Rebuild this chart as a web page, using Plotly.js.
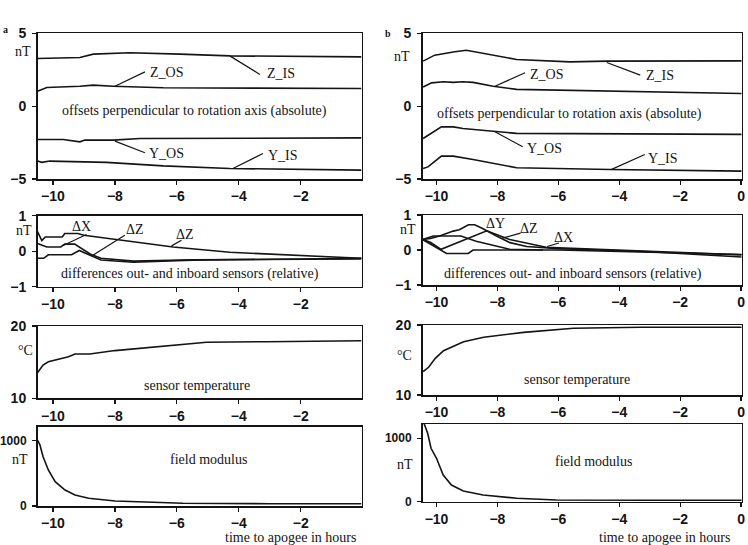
<!DOCTYPE html>
<html>
<head>
<meta charset="utf-8">
<script src="https://cdn.plot.ly/plotly-3.0.1.min.js"></script>
<style>
  html, body { margin: 0; padding: 0; background: #fff; }
  #fig { width: 748px; height: 545px; }
</style>
</head>
<body>
<div id="fig"></div>
<script>
// ---- tick labels ----
const hourTicks   = [-10, -8, -6, -4, -2, 0];
const offsetTicks = [-5, 0, 5];
const diffTicks   = [-1, 0, 1];
const tempTicks   = [10, 20];
const fieldTicks  = [0, 1000];

// ---- panel a: offsets perpendicular to rotation axis (nT) ----
const aZisT = [-10.5, -9.13, -8.7, -7.52, -5.9, -4.29, -0.04];
const aZisV = [3.27, 3.34, 3.57, 3.66, 3.57, 3.45, 3.38];
const aZosT = [-10.5, -10.2, -9.13, -8.7, -8.06, -6.44, -0.04];
const aZosV = [1.03, 1.28, 1.37, 1.44, 1.37, 1.26, 1.21];
const aYosT = [-10.5, -9.67, -9.13, -8.97, -8.06, -7.19, -0.04];
const aYosV = [-2.29, -2.29, -2.45, -2.33, -2.33, -2.22, -2.18];
const aYisT = [-10.5, -10.36, -10.1, -9.13, -8.27, -6.44, -4.29, -0.04];
const aYisV = [-3.77, -3.86, -3.77, -3.82, -3.86, -4.1, -4.28, -4.39];

// ---- panel b: offsets perpendicular to rotation axis (nT) ----
const bZisT = [-10.44, -10.06, -9.4, -9.02, -7.37, -5.62, -4.41, 0.02];
const bZisV = [3.09, 3.5, 3.73, 3.84, 3.2, 3.04, 3.09, 3.11];
const bZosT = [-10.44, -10.16, -9.78, -9.45, -9.13, -8.8, -8.14, -7.37, 0.02];
const bZosV = [1.32, 1.6, 1.67, 1.63, 1.67, 1.63, 1.37, 1.15, 0.87];
const bYosT = [-10.44, -9.84, -9.45, -9.13, -8.14, -7.37, 0.02];
const bYosV = [-2.22, -1.42, -1.42, -1.53, -1.72, -1.87, -1.94];
const bYisT = [-10.44, -10.28, -9.84, -9.45, -8.8, -7.37, -4.3, 0.02];
const bYisV = [-4.28, -4.17, -3.43, -3.43, -3.66, -4.23, -4.35, -4.46];

// ---- panel a: differences out- and inboard sensors (nT) ----
const aDiff1T = [-10.5, -10.36, -10.25, -9.7, -9.62, -9.2, -9.0, -6.12, -4.29, -0.04];
const aDiff1V = [0.55, 0.3, 0.4, 0.4, 0.5, 0.5, 0.45, 0.12, -0.03, -0.2];
const aDiff2T = [-10.5, -10.2, -9.75, -9.62, -9.3, -9.15, -8.8, -8.45, -7.4, -5.5, -0.04];
const aDiff2V = [0.22, 0.12, 0.12, 0.2, 0.2, 0.12, -0.08, -0.2, -0.28, -0.24, -0.22];
const aDiff3T = [-10.5, -10.3, -10.15, -9.4, -9.15, -8.8, -8.45, -7.4, -5.5, -0.04];
const aDiff3V = [-0.2, -0.2, -0.1, -0.1, 0.02, -0.12, -0.25, -0.31, -0.25, -0.2];

// ---- panel b: differences out- and inboard sensors (nT) ----
const bDiff1T = [-10.46, -10.2, -9.9, -9.7, -9.45, -9.25, -8.95, -8.75, -8.52, -8.03, -7.59, -7.04, -6.0, -3.0, 0.02];
const bDiff1V = [0.3, 0.33, 0.4, 0.47, 0.54, 0.58, 0.72, 0.72, 0.63, 0.4, 0.21, 0.1, 0.04, -0.05, -0.2];
const bDiff2T = [-10.46, -10.2, -9.85, -8.35, -7.6, -6.4, -3.0, 0.02];
const bDiff2V = [0.3, 0.22, 0.02, 0.55, 0.3, 0.08, -0.04, -0.14];
const bDiff3T = [-10.46, -10.25, -9.67, -8.96, -8.8, -6.0, -3.0, 0.02];
const bDiff3V = [0.3, 0.2, -0.1, -0.1, 0.0, 0.0, -0.06, -0.13];
const bDiff4T = [-10.46, -10.1, -9.2, -8.7, -7.6, -6.5];
const bDiff4V = [0.3, 0.4, 0.4, 0.25, 0.02, 0.0];

// ---- sensor temperature (°C) ----
const aTempT = [-10.5, -10.32, -10.15, -9.83, -9.5, -9.29, -8.81, -8.0, -6.87, -5.58, -5.04, -3.11, -0.04];
const aTempV = [13.54, 14.6, 15.06, 15.4, 15.76, 16.13, 16.13, 16.6, 17.05, 17.6, 17.75, 17.83, 17.97];
const bTempT = [-10.44, -10.26, -10.04, -9.77, -9.11, -8.45, -7.14, -5.5, -3.3, 0.02];
const bTempV = [13.33, 13.96, 15.24, 16.33, 17.62, 18.24, 18.95, 19.53, 19.67, 19.67];

// ---- field modulus (nT) ----
const aFieldT = [-10.5, -10.42, -10.32, -10.15, -9.93, -9.61, -9.29, -8.85, -7.99, -6.87, -5.8, -3.0, -0.04];
const aFieldV = [1010, 934, 755, 551, 372, 245, 168, 118, 77, 57, 41, 35, 35];
const bFieldT = [-10.46, -10.4, -10.29, -10.18, -10.0, -9.78, -9.51, -9.12, -8.47, -7.37, -6.06, -3.0, 0.02];
const bFieldV = [1300, 1225, 1079, 842, 685, 421, 263, 169, 106, 54, 27, 22, 22];

// ---- styling ----
const INK = '#141414';
const SERIF = 'Liberation Serif, Times New Roman, serif';
const SANS = 'Liberation Sans, Arial, sans-serif';
const W = 748, H = 545;
const TICKFONT = { family: SANS, size: 14, color: INK, weight: 700 };
const SMALLTICKFONT = { family: SANS, size: 12, color: INK, weight: 700 };

function line(x, y, n) {
  return { x: x, y: y, xaxis: 'x' + (n === 1 ? '' : n), yaxis: 'y' + (n === 1 ? '' : n),
           type: 'scatter', mode: 'lines', line: { color: INK, width: 1.6 },
           hoverinfo: 'skip', showlegend: false };
}

function xAxis(domain, range, anchor) {
  return { domain: domain, range: range, anchor: anchor, tickvals: hourTicks,
           ticks: 'outside', ticklen: 4, tickwidth: 1.3, tickcolor: INK,
           showline: true, linecolor: INK, linewidth: 1.5, mirror: true,
           showgrid: false, zeroline: false, fixedrange: true, tickfont: TICKFONT };
}
function yAxis(domain, range, anchor, ticks, font) {
  return { domain: domain, range: range, anchor: anchor, tickvals: ticks,
           ticks: 'outside', ticklen: 4, tickwidth: 1.3, tickcolor: INK,
           showline: true, linecolor: INK, linewidth: 1.5, mirror: true,
           showgrid: false, zeroline: false, fixedrange: true,
           ticklabelstandoff: 3, tickfont: font || TICKFONT };
}

const leftX = [37.5 / W, 361.7 / W];
const rightX = [422.5 / W, 741.7 / W];
const dom = (top, bottom) => [1 - bottom / H, 1 - top / H];

const data = [
  line(aZisT, aZisV, 1), line(aZosT, aZosV, 1), line(aYosT, aYosV, 1), line(aYisT, aYisV, 1),
  line(bZisT, bZisV, 2), line(bZosT, bZosV, 2), line(bYosT, bYosV, 2), line(bYisT, bYisV, 2),
  line(aDiff1T, aDiff1V, 3), line(aDiff2T, aDiff2V, 3), line(aDiff3T, aDiff3V, 3),
  line(bDiff1T, bDiff1V, 4), line(bDiff2T, bDiff2V, 4), line(bDiff3T, bDiff3V, 4), line(bDiff4T, bDiff4V, 4),
  line(aTempT, aTempV, 5), line(bTempT, bTempV, 6),
  line(aFieldT, aFieldV, 7), line(bFieldT, bFieldV, 8)
];

// text placed inside the panels, in each panel's own data units
function txt(s, x, y, n) {
  const suf = n === 1 ? '' : n;
  return { text: s, x: x, y: y, xref: 'x' + suf, yref: 'y' + suf,
           xanchor: 'center', yanchor: 'middle', showarrow: false,
           font: { family: SERIF, size: 14, color: INK } };
}
// unit labels sit left of each panel's axis
function unit(s, px, y, n) {
  const suf = n === 1 ? '' : n;
  return { text: s, x: px / W, y: y, xref: 'paper', yref: 'y' + suf,
           xanchor: 'center', yanchor: 'middle', showarrow: false,
           font: { family: SERIF, size: 14, color: INK } };
}
function leader(x0, y0, x1, y1, n) {
  const suf = n === 1 ? '' : n;
  return { type: 'line', xref: 'x' + suf, yref: 'y' + suf, x0: x0, y0: y0, x1: x1, y1: y1,
           line: { color: INK, width: 1.2 } };
}

const annotations = [
  // panel a, offsets
  txt('Z_OS', -6.34, 2.29, 1), txt('Z_IS', -2.65, 2.24, 1),
  txt('offsets perpendicular to rotation axis (absolute)', -5.43, -0.34, 1),
  txt('Y_OS', -6.35, -3.25, 1), txt('Y_IS', -2.58, -3.41, 1),
  unit('nT', 23.3, 3.73, 1),
  // panel b, offsets
  txt('Z_OS', -6.39, 2.18, 2), txt('Z_IS', -2.66, 2.13, 2),
  txt('offsets perpendicular to rotation axis (absolute)', -5.62, -0.57, 2),
  txt('Y_OS', -6.44, -2.9, 2), txt('Y_IS', -2.56, -3.59, 2),
  unit('nT', 402.3, 3.43, 2),
  // panel a, differences
  txt('ΔX', -9.07, 0.69, 3), txt('ΔZ', -7.35, 0.6, 3), txt('ΔZ', -5.74, 0.46, 3),
  txt('differences out- and inboard sensors (relative)', -5.56, -0.64, 3),
  unit('nT', 24, 0.57, 3),
  // panel b, differences
  txt('ΔY', -8.06, 0.77, 4), txt('ΔZ', -6.97, 0.62, 4), txt('ΔX', -5.82, 0.36, 4),
  txt('differences out- and inboard sensors (relative)', -5.53, -0.68, 4),
  unit('nT', 408, 0.58, 4),
  // temperature
  txt('sensor temperature', -5.36, 11.84, 5), unit('°C', 25, 16.68, 5),
  txt('sensor temperature', -5.38, 12.25, 6), unit('°C', 404, 15.71, 6),
  // field modulus
  txt('field modulus', -4.99, 715, 7), unit('nT', 19.5, 715, 7),
  txt('field modulus', -4.83, 631, 8), unit('nT', 405, 579, 8),
  // x-axis captions
  { text: 'time to apogee in hours', x: 358.3 / W, y: 1 - 537.3 / H, xref: 'paper', yref: 'paper',
    xanchor: 'right', yanchor: 'middle', showarrow: false, font: { family: SERIF, size: 14, color: INK } },
  { text: 'time to apogee in hours', x: 732.3 / W, y: 1 - 537.3 / H, xref: 'paper', yref: 'paper',
    xanchor: 'right', yanchor: 'middle', showarrow: false, font: { family: SERIF, size: 14, color: INK } },
  // panel letters
  { text: '<b>a</b>', x: 1 / W, y: 1 - 29.3 / H, xref: 'paper', yref: 'paper', xanchor: 'left',
    yanchor: 'middle', showarrow: false, font: { family: SERIF, size: 10, color: INK } },
  { text: '<b>b</b>', x: 383 / W, y: 1 - 33.3 / H, xref: 'paper', yref: 'paper', xanchor: 'left',
    yanchor: 'middle', showarrow: false, font: { family: SERIF, size: 10, color: INK } }
];

const shapes = [
  leader(-8.0, 1.37, -7.03, 2.35, 1), leader(-4.29, 3.45, -3.32, 2.18, 1),
  leader(-8.0, -2.4, -7.03, -3.2, 1), leader(-4.19, -4.28, -3.22, -3.25, 1),
  leader(-8.08, 1.37, -7.09, 2.29, 2), leader(-4.41, 3.0, -3.31, 2.13, 2),
  leader(-8.08, -1.76, -7.17, -2.79, 2), leader(-4.25, -4.34, -3.16, -3.32, 2),
  leader(-9.67, 0.16, -8.92, 0.47, 3), leader(-8.7, -0.11, -7.68, 0.45, 3),
  leader(-6.17, 0.15, -5.85, 0.31, 3),
  leader(-7.84, 0.34, -7.24, 0.48, 4), leader(-6.37, 0.1, -5.98, 0.2, 4)
];

const layout = {
  width: W, height: H, margin: { l: 0, r: 0, t: 0, b: 0 },
  paper_bgcolor: '#fff', plot_bgcolor: '#fff', showlegend: false,
  xaxis:  xAxis(leftX,  [-10.5, -0.03], 'y'),
  yaxis:  yAxis(dom(33.3, 179), [-5, 5], 'x', offsetTicks),
  xaxis2: xAxis(rightX, [-10.46, 0.02], 'y2'),
  yaxis2: yAxis(dom(33.3, 179), [-5, 5], 'x2', offsetTicks),
  xaxis3: xAxis(leftX,  [-10.5, -0.03], 'y3'),
  yaxis3: yAxis(dom(215.7, 286.7), [-1, 1], 'x3', diffTicks),
  xaxis4: xAxis(rightX, [-10.46, 0.02], 'y4'),
  yaxis4: yAxis(dom(215, 285), [-1, 1], 'x4', diffTicks),
  xaxis5: xAxis(leftX,  [-10.5, -0.03], 'y5'),
  yaxis5: yAxis(dom(326, 398.3), [10, 20], 'x5', tempTicks),
  xaxis6: xAxis(rightX, [-10.46, 0.02], 'y6'),
  yaxis6: yAxis(dom(325, 395), [10, 20], 'x6', tempTicks),
  xaxis7: xAxis(leftX,  [-10.5, -0.03], 'y7'),
  yaxis7: yAxis(dom(426.7, 506), [0, 1214], 'x7', fieldTicks, SMALLTICKFONT),
  xaxis8: xAxis(rightX, [-10.46, 0.02], 'y8'),
  yaxis8: yAxis(dom(424, 501.7), [0, 1225], 'x8', fieldTicks, SMALLTICKFONT),
  annotations: annotations,
  shapes: shapes
};

Plotly.newPlot('fig', data, layout, { staticPlot: true, displayModeBar: false });
</script>
</body>
</html>
